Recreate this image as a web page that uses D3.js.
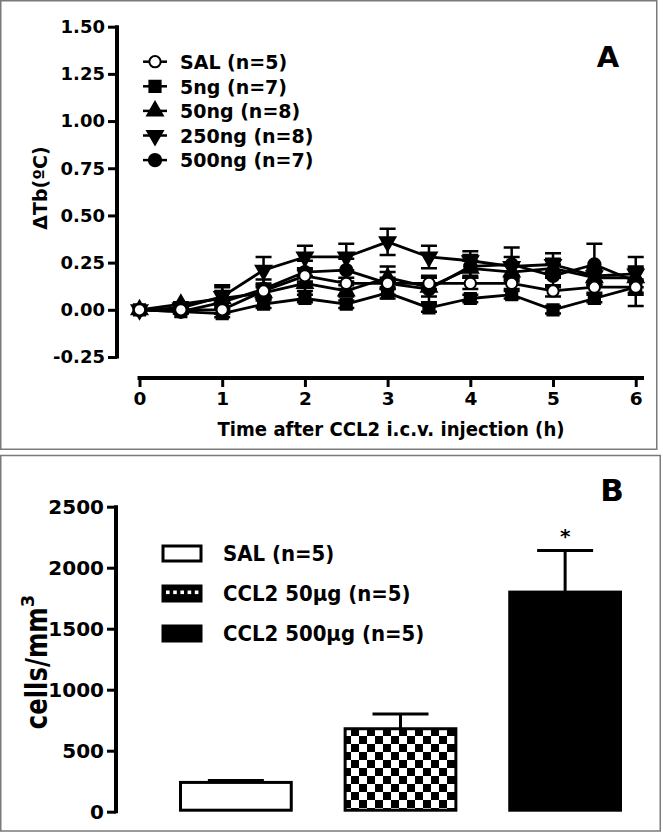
<!DOCTYPE html>
<html><head><meta charset="utf-8">
<script src="https://cdn.jsdelivr.net/npm/d3@7"></script>
<style>body{margin:0;background:#fff}svg{display:block}text{font-family:"DejaVu Sans",sans-serif;font-weight:bold;fill:#000}</style>
</head><body><svg id="c" width="663" height="832"></svg>
<script>
// ---------- Panel A data ----------
const times = [0, 0.5, 1, 1.5, 2, 2.5, 3, 3.5, 4, 4.5, 5, 5.5, 6];
const xTicksA = [0, 1, 2, 3, 4, 5, 6];
const yTicksA = [-0.25, 0, 0.25, 0.5, 0.75, 1.0, 1.25, 1.5];
const seriesNames = ["SAL (n=5)", "5ng (n=7)", "50ng (n=8)", "250ng (n=8)", "500ng (n=7)"];
const salMean   = [0, 0.00, 0.00, 0.10, 0.18, 0.14, 0.14, 0.14, 0.14, 0.14, 0.10, 0.12, 0.12];
const salErr    = [0, 0.01, 0.02, 0.03, 0.03, 0.03, 0.03, 0.03, 0.03, 0.03, 0.03, 0.03, 0.04];
const ng5Mean   = [0, -0.01, -0.02, 0.03, 0.06, 0.03, 0.09, 0.01, 0.06, 0.08, 0.00, 0.06, 0.12];
const ng5Err    = [0, 0.01, 0.02, 0.02, 0.02, 0.02, 0.03, 0.02, 0.02, 0.02, 0.02, 0.02, 0.03];
const ng50Mean  = [0, 0.03, 0.06, 0.09, 0.14, 0.10, 0.17, 0.12, 0.22, 0.20, 0.22, 0.17, 0.17];
const ng50Err   = [0, 0.01, 0.06, 0.03, 0.04, 0.03, 0.06, 0.05, 0.04, 0.04, 0.05, 0.04, 0.05];
const ng250Mean = [0, 0.01, 0.07, 0.21, 0.28, 0.28, 0.36, 0.28, 0.26, 0.23, 0.24, 0.18, 0.19];
const ng250Err  = [0, 0.01, 0.06, 0.07, 0.06, 0.07, 0.07, 0.06, 0.05, 0.05, 0.06, 0.04, 0.04];
const ng500Mean = [0, -0.01, 0.04, 0.11, 0.20, 0.21, 0.14, 0.11, 0.23, 0.24, 0.18, 0.24, 0.15];
const ng500Err  = [0, 0.01, 0.06, 0.05, 0.06, 0.06, 0.06, 0.07, 0.06, 0.09, 0.06, 0.11, 0.13];

// ---------- Panel B data ----------
const groupsB = ["SAL (n=5)", "CCL2 50μg (n=5)", "CCL2 500μg (n=5)"];
const cellsMean = [240, 680, 1800];
const cellsErr  = [15, 120, 340];
const yTicksB = [0, 500, 1000, 1500, 2000, 2500];

const svg = d3.select("#c");
const hyph = f => d => f(d).replace("\u2212", "-");

const defs = svg.append("defs");
const pat = defs.append("pattern").attr("id","chk").attr("patternUnits","userSpaceOnUse")
  .attr("width",16).attr("height",16).attr("x",343).attr("y",0);
pat.append("rect").attr("width",16).attr("height",16).attr("fill","#fff");
pat.append("rect").attr("width",8).attr("height",8).attr("fill","#000");
pat.append("rect").attr("x",8).attr("y",8).attr("width",8).attr("height",8).attr("fill","#000");

svg.append("rect").attr("x",0.75).attr("y",0.75).attr("width",656).attr("height",448.5)
  .attr("fill","none").attr("stroke","#7a7a7a").attr("stroke-width",1.5);
svg.append("rect").attr("x",0.75).attr("y",455.5).attr("width",659.5).attr("height",375.5)
  .attr("fill","none").attr("stroke","#7a7a7a").attr("stroke-width",1.5);

// ================= Panel A =================
const xA = d3.scaleLinear().domain([0, 6.1]).range([139.5, 644]);
const yA = d3.scaleLinear().domain([-0.25, 1.5]).range([357, 26.7]);
const gA = svg.append("g");

const yAxA = gA.append("g").attr("transform","translate(117,0)")
  .call(d3.axisLeft(yA).tickValues(yTicksA).tickFormat(hyph(d3.format(".2f"))).tickSize(9).tickPadding(3));
yAxA.select(".domain").attr("stroke-width",4).attr("d",`M0,${yA(-0.25)+1.5}V${yA(1.5)-1.5}`);
yAxA.selectAll(".tick line").attr("stroke-width",3);
yAxA.selectAll(".tick text").attr("font-size",18).attr("font-family","DejaVu Sans").attr("font-weight","bold");

const xAxA = gA.append("g").attr("transform","translate(0,378)")
  .call(d3.axisBottom(xA).tickValues(xTicksA).tickFormat(d3.format("d")).tickSize(9).tickPadding(5));
xAxA.select(".domain").attr("stroke-width",4).attr("d",`M${xA(0)-2},0H${xA(6.1)}`);
xAxA.selectAll(".tick line").attr("stroke-width",3);
xAxA.selectAll(".tick text").attr("font-size",18.5).attr("font-family","DejaVu Sans").attr("font-weight","bold");

gA.append("text").attr("x",391).attr("y",436).attr("text-anchor","middle").attr("font-size",19)
  .attr("textLength",347).attr("lengthAdjust","spacingAndGlyphs")
  .text("Time after CCL2 i.c.v. injection (h)");
gA.append("text").attr("transform","translate(47,188) rotate(-90)").attr("text-anchor","middle")
  .attr("font-size",19).text("ΔTb(ºC)");
gA.append("text").attr("x",608).attr("y",67).attr("text-anchor","middle").attr("font-size",29).text("A");

const seriesA = [
  {name: seriesNames[4], mean: ng500Mean, err: ng500Err, sym: d3.symbolCircle, size: 120, fill:"#000", rot:0},
  {name: seriesNames[3], mean: ng250Mean, err: ng250Err, sym: d3.symbolTriangle, size: 105, fill:"#000", rot:180},
  {name: seriesNames[2], mean: ng50Mean,  err: ng50Err,  sym: d3.symbolTriangle, size: 105, fill:"#000", rot:0},
  {name: seriesNames[1], mean: ng5Mean,   err: ng5Err,   sym: d3.symbolSquare, size: 125, fill:"#000", rot:0},
  {name: seriesNames[0], mean: salMean,   err: salErr,   sym: d3.symbolCircle, size: 100, fill:"#fff", rot:0}
];
const line = d3.line().x(d => xA(d[0])).y(d => yA(d[1]));
seriesA.forEach(s => {
  gA.append("path").attr("d", line(times.map((t,i)=>[t, s.mean[i]])))
    .attr("fill","none").attr("stroke","#000").attr("stroke-width",2.8).attr("stroke-linejoin","round");
});
seriesA.forEach(s => {
  times.forEach((t,i) => {
    if (s.err[i] <= 0.005) return;
    const x = xA(t), y1 = yA(s.mean[i]+s.err[i]), y0 = yA(s.mean[i]-s.err[i]);
    gA.append("path").attr("d",`M${x},${y0}V${y1}M${x-8},${y1}H${x+8}M${x-8},${y0}H${x+8}`)
      .attr("stroke","#000").attr("stroke-width",2.5).attr("fill","none");
  });
});
seriesA.forEach(s => {
  const p = d3.symbol().type(s.sym).size(s.size)();
  times.forEach((t,i) => {
    gA.append("path").attr("d",p)
      .attr("transform",`translate(${xA(t)},${yA(s.mean[i])}) rotate(${s.rot})`)
      .attr("fill",s.fill).attr("stroke","#000").attr("stroke-width",2);
  });
});
const legOrder = [4,3,2,1,0];
seriesNames.forEach((n,k) => {
  const s = seriesA[legOrder[k]];
  const cy = 61.7 + k*24.6;
  gA.append("path").attr("d",`M143,${cy}H167`).attr("stroke","#000").attr("stroke-width",2.5);
  gA.append("path").attr("d",d3.symbol().type(s.sym).size(s.size)())
    .attr("transform",`translate(155,${cy}) rotate(${s.rot})`)
    .attr("fill",s.fill).attr("stroke","#000").attr("stroke-width",2);
  gA.append("text").attr("x",180).attr("y",cy+7.2).attr("font-size",20).text(n)
    .each(function(){ const w=this.getComputedTextLength(); d3.select(this).attr("textLength",w*0.95).attr("lengthAdjust","spacingAndGlyphs"); });
});

// ================= Panel B =================
const yB = d3.scaleLinear().domain([0, 2500]).range([811.7, 506.7]);
const xB = d3.scaleBand().domain(groupsB).range([179, 622]).paddingInner(0.309).paddingOuter(0);
const gB = svg.append("g");
const yAxB = gB.append("g").attr("transform","translate(116,0)")
  .call(d3.axisLeft(yB).tickValues(yTicksB).tickFormat(d3.format("d")).tickSize(9).tickPadding(3));
yAxB.select(".domain").attr("stroke-width",4).attr("d",`M0,${yB(0)+1.5}V${yB(2500)-1.5}`);
yAxB.selectAll(".tick line").attr("stroke-width",3);
yAxB.selectAll(".tick text").attr("font-size",20).attr("font-family","DejaVu Sans").attr("font-weight","bold");

const fills = ["#fff","url(#chk)","#000"];
groupsB.forEach((g,i) => {
  const x = xB(g), w = xB.bandwidth(), cx = x + w/2;
  gB.append("path").attr("d",`M${cx},${yB(cellsMean[i])}V${yB(cellsMean[i]+cellsErr[i])}M${cx-28},${yB(cellsMean[i]+cellsErr[i])}H${cx+28}`)
    .attr("stroke","#000").attr("stroke-width",3);
  gB.append("rect").attr("x",x+1.5).attr("y",yB(cellsMean[i])).attr("width",w-3)
    .attr("height",yB(0)-yB(cellsMean[i])-1.5).attr("fill",fills[i]).attr("stroke","#000").attr("stroke-width",3);
});
gB.append("text").attr("x",xB(groupsB[2])+xB.bandwidth()/2).attr("y",543).attr("text-anchor","middle")
  .attr("font-size",20).text("*");

const yt = gB.append("text").attr("transform","translate(47,662) rotate(-90)").attr("text-anchor","middle").attr("font-size",30);
yt.append("tspan").attr("textLength",122).attr("lengthAdjust","spacingAndGlyphs").text("cells/mm");
yt.append("tspan").attr("font-size",18).attr("dy",-13).text("3");

groupsB.forEach((g,i) => {
  const cy = 553.5 + i*40;
  gB.append("rect").attr("x",163).attr("y",cy-7.5).attr("width",38).attr("height",15)
    .attr("fill",i===1?"#000":fills[i]).attr("stroke","#000").attr("stroke-width",3);
  if (i===1) {
    for (let k=0;k<5;k++) gB.append("rect").attr("x",166+k*7.2).attr("y",cy-3).attr("width",3.6).attr("height",3.6).attr("fill","#fff");
  }
  gB.append("text").attr("x",223).attr("y",cy+7.5).attr("font-size",21).text(g)
    .each(function(){ const w=this.getComputedTextLength(); d3.select(this).attr("textLength",w*0.94).attr("lengthAdjust","spacingAndGlyphs"); });
});
gB.append("text").attr("x",612).attr("y",501).attr("text-anchor","middle").attr("font-size",31).text("B");
</script></body></html>
